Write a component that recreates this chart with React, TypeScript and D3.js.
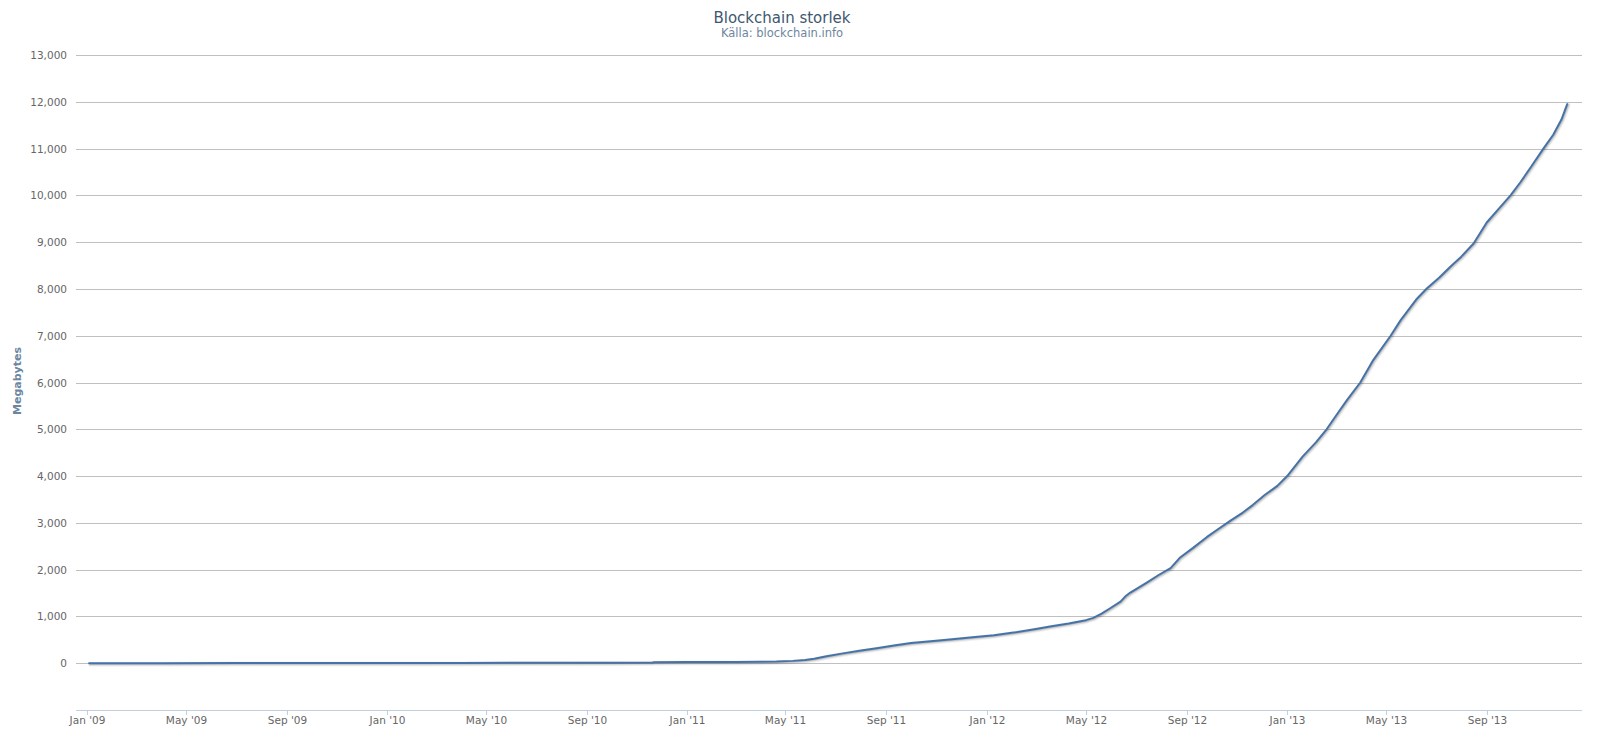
import React from "react";
import * as d3 from "d3";

const dates: string[] = [
  "2009-01-03","2009-04-01","2009-07-01","2009-10-01","2010-01-01","2010-04-01","2010-07-01","2010-10-01",
  "2010-11-20","2010-11-22","2011-01-01","2011-02-01","2011-03-01","2011-04-01","2011-04-20","2011-05-10",
  "2011-05-25","2011-06-05","2011-06-20","2011-07-10","2011-08-01","2011-08-20","2011-09-10","2011-10-01",
  "2011-10-25","2011-11-20","2011-12-15","2012-01-10","2012-02-05","2012-03-01","2012-03-20","2012-04-10",
  "2012-05-01","2012-05-10","2012-05-20","2012-05-30","2012-06-12","2012-06-18","2012-06-24","2012-07-14",
  "2012-07-28","2012-08-12","2012-08-24","2012-09-08","2012-09-25","2012-10-10","2012-10-24","2012-11-08",
  "2012-11-20","2012-12-05","2012-12-20","2013-01-01","2013-01-20","2013-02-05","2013-02-18","2013-03-05",
  "2013-03-15","2013-03-31","2013-04-16","2013-05-07","2013-05-19","2013-06-08","2013-06-20","2013-07-05",
  "2013-07-19","2013-08-01","2013-08-16","2013-09-01","2013-09-15","2013-09-30","2013-10-12","2013-10-24",
  "2013-11-09","2013-11-21","2013-12-01","2013-12-08"
];

const sizesMB: number[] = [
  0, 1, 2, 3, 5, 7, 9, 12,
  14, 22, 24, 25, 27, 30, 35, 50,
  70, 95, 150, 210, 270, 320, 380, 430,
  470, 510, 555, 600, 660, 730, 790, 850,
  920, 970, 1060, 1170, 1317, 1430, 1510, 1724,
  1880, 2031, 2266, 2460, 2694, 2880, 3049, 3220,
  3380, 3600, 3790, 4000, 4420, 4720, 5000, 5380,
  5630, 6000, 6485, 7000, 7327, 7791, 8010, 8240,
  8480, 8690, 8970, 9420, 9700, 10000, 10280, 10585,
  11000, 11296, 11620, 11950
];

const yTicks: number[] = [0, 1000, 2000, 3000, 4000, 5000, 6000, 7000, 8000, 9000, 10000, 11000, 12000, 13000];
const xTickDates: string[] = [
  "2009-01-01","2009-05-01","2009-09-01","2010-01-01","2010-05-01","2010-09-01","2011-01-01","2011-05-01",
  "2011-09-01","2012-01-01","2012-05-01","2012-09-01","2013-01-01","2013-05-01","2013-09-01"
];
const xTickLabels: string[] = [
  "Jan '09","May '09","Sep '09","Jan '10","May '10","Sep '10","Jan '11","May '11",
  "Sep '11","Jan '12","May '12","Sep '12","Jan '13","May '13","Sep '13"
];

const titleText = "Blockchain storlek";
const subtitleText = "Källa: blockchain.info";
const yTitle = "Megabytes";

const W = 1607;
const H = 746;
const FONT = "'DejaVu Sans', Verdana, sans-serif";

export default function App() {
  const parse = d3.utcParse("%Y-%m-%d");
  const plotL = 76, plotR = 1582, plotT = 55, plotB = 710;
  const x = d3.scaleUtc()
    .domain([parse("2008-12-18")!, parse("2013-12-26")!])
    .range([plotL, plotR]);
  const y = d3.scaleLinear().domain([-1000, 13000]).range([plotB, plotT]);
  const pts = dates.map((d, i) => ({ d: parse(d)!, v: sizesMB[i] }));
  const line = d3.line<{ d: Date; v: number }>().x(p => x(p.d)).y(p => y(p.v));
  const path = line(pts) || "";
  const fmt = d3.format(",");

  return (
    <div style={{ position: "fixed", left: 0, top: 0, width: W, height: H, background: "#fff" }}>
      <svg width={W} height={H} style={{ display: "block" }}>
        <rect x={0} y={0} width={W} height={H} fill="#fff" />
        {yTicks.map(t => (
          <line key={"g" + t} x1={plotL} x2={plotR} y1={Math.round(y(t)) + 0.5} y2={Math.round(y(t)) + 0.5}
            stroke="#C0C0C0" strokeWidth={1} />
        ))}
        <line x1={plotL} x2={plotR} y1={plotB + 0.5} y2={plotB + 0.5} stroke="#C0D0E0" strokeWidth={1} />
        {xTickDates.map((d, i) => {
          const xx = Math.round(x(parse(d)!)) + 0.5;
          return (
            <g key={"xt" + d}>
              <line x1={xx} x2={xx} y1={plotB} y2={plotB + 5} stroke="#C0D0E0" strokeWidth={1} />
              <text x={xx} y={724} textAnchor="middle" fontFamily={FONT} fontSize={10.5} fill="#666">
                {xTickLabels[i]}
              </text>
            </g>
          );
        })}
        {yTicks.map(t => (
          <text key={"yl" + t} x={67} y={y(t) + 4} textAnchor="end" fontFamily={FONT} fontSize={10.5} fill="#666">
            {fmt(t)}
          </text>
        ))}
        {[1, 2, 3].map(i => (
          <path key={"sh" + i} d={path} fill="none" stroke="#000" strokeOpacity={0.05 * i}
            strokeWidth={7 - 2 * i} transform="translate(1,1)" strokeLinejoin="round" strokeLinecap="round" />
        ))}
        <path d={path} fill="none" stroke="#4572A7" strokeWidth={2} strokeLinejoin="round" strokeLinecap="round" />
        <text x={782} y={23} textAnchor="middle" fontFamily={FONT} fontSize={15} fill="#3E576F">{titleText}</text>
        <text x={782} y={37} textAnchor="middle" fontFamily={FONT} fontSize={11.5} fill="#6D869F">{subtitleText}</text>
        <text transform={`translate(21,${381}) rotate(-90)`} textAnchor="middle" fontFamily={FONT}
          fontSize={11} fontWeight="bold" fill="#6D869F">{yTitle}</text>
      </svg>
    </div>
  );
}
